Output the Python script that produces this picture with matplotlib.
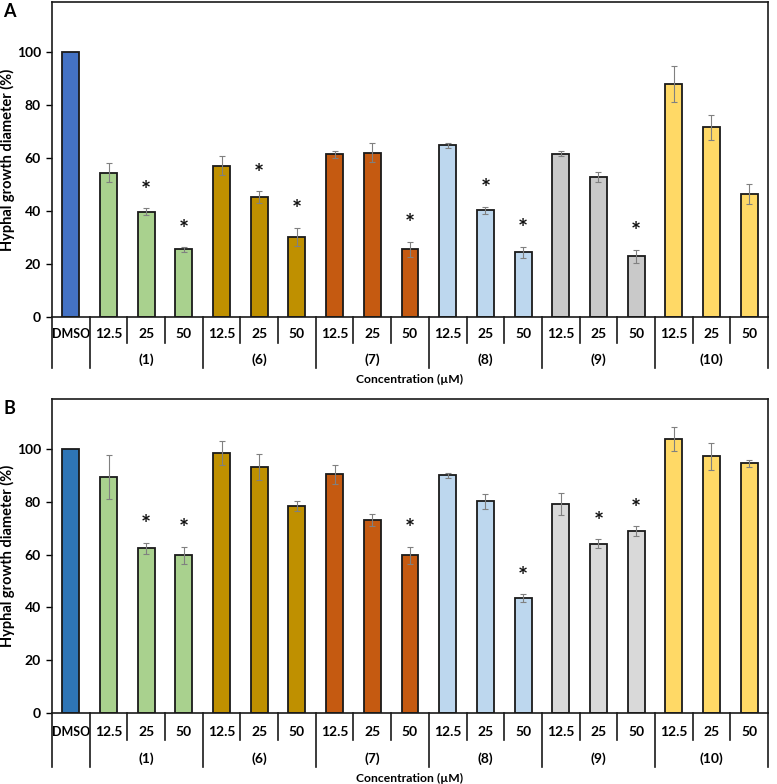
import matplotlib
matplotlib.use('Agg')
import matplotlib.pyplot as plt
import matplotlib.transforms as mtransforms
import numpy as np

plt.rcParams['font.family'] = ['Lato', 'DejaVu Sans']
plt.rcParams['font.weight'] = 'bold'

conc = ['DMSO', '12.5', '25', '50', '12.5', '25', '50', '12.5', '25', '50',
        '12.5', '25', '50', '12.5', '25', '50', '12.5', '25', '50']
groups = ['(1)', '(6)', '(7)', '(8)', '(9)', '(10)']

vals_a = [100, 54.5, 39.7, 25.5, 57.2, 45.3, 30.3, 61.4, 62.1, 25.5,
          64.8, 40.3, 24.4, 61.7, 52.8, 22.9, 88.0, 71.6, 46.6]
err_a = [0, 3.6, 1.3, 0.8, 3.7, 2.2, 3.3, 1.4, 3.5, 2.9,
         1.0, 1.4, 2.2, 1.0, 1.9, 2.4, 6.8, 4.7, 3.8]
star_a = [0, 0, 1, 1, 0, 1, 1, 0, 0, 1, 0, 1, 1, 0, 0, 1, 0, 0, 0]

vals_b = [100, 89.5, 62.4, 59.7, 98.5, 93.2, 78.3, 90.4, 73.1, 59.8,
          90.0, 80.2, 43.6, 79.2, 64.2, 68.9, 103.8, 97.2, 94.6]
err_b = [0, 8.3, 2.2, 3.2, 4.6, 4.9, 1.9, 3.7, 2.2, 3.2,
         1.1, 2.9, 1.4, 4.0, 1.6, 1.8, 4.4, 5.3, 1.2]
star_b = [0, 0, 1, 1, 0, 0, 0, 0, 0, 1, 0, 0, 1, 0, 1, 1, 0, 0, 0]

grp_cols_a = ['#4472C4', '#A9D18E', '#BF9000', '#C55A11', '#BDD7EE', '#C9C9C9', '#FFD966']
grp_cols_b = ['#2E75B6', '#A9D18E', '#BF9000', '#C55A11', '#BDD7EE', '#D9D9D9', '#FFD966']


def bar_colors(gc):
    return [gc[0]] + [c for c in gc[1:] for _ in range(3)]


def draw_panel(ax, vals, errs, stars, cols, letter, shift=0):
    fig = ax.figure
    x = np.arange(len(vals))
    ax.bar(x, vals, width=0.45, color=cols, edgecolor='#1a1a1a', linewidth=1.3, zorder=2)
    e = np.array(errs)
    m = e > 0
    ax.errorbar(x[m], np.array(vals)[m], yerr=e[m], fmt='none', ecolor='#808080',
                elinewidth=0.8, capsize=2, capthick=0.8, zorder=3)
    for i in range(len(vals)):
        if stars[i]:
            ax.text(i, vals[i] + errs[i] + 6.5, '*', ha='center', va='center',
                    fontsize=17, fontweight='bold', color='#111111')
    ax.set_xlim(-0.5, len(vals) - 0.5)
    ax.set_ylim(0, 119)
    ax.set_yticks([0, 20, 40, 60, 80, 100])
    ax.tick_params(axis='y', direction='out', length=4, width=1, labelsize=10, pad=4)
    ax.set_xticks([])
    for s in ax.spines.values():
        s.set_linewidth(1.2)
        s.set_color('#1a1a1a')
    ax.set_ylabel('Hyphal growth diameter (%)', fontsize=10.5, fontweight='bold')
    ax.yaxis.set_label_coords(-0.052, 0.5)

    # category axis below the plot
    trans = mtransforms.blended_transform_factory(ax.transData, ax.transAxes)

    def off(dy):
        return trans + mtransforms.ScaledTranslation(0, dy / 72.0, fig.dpi_scale_trans)

    h = ax.get_position().height * fig.get_figheight() * 72.0
    big = [-0.5, 0.5, 3.5, 6.5, 9.5, 12.5, 15.5, 18.5]
    for b in np.arange(-0.5, len(vals), 1.0):
        depth = 37 + shift if b in big else 18.5 + shift / 2
        ax.plot([b, b], [0, -depth / h], color='#1a1a1a', linewidth=1.2,
                transform=trans, clip_on=False, zorder=4)
    for i, c in enumerate(conc):
        ax.text(i, 0, c, transform=off(-12 - shift), ha='center', va='center',
                fontsize=9 if c == 'DMSO' else 10, fontweight='bold')
    for g, name in enumerate(groups):
        ax.text(2 + 3 * g, 0, name, transform=off(-31 - shift), ha='center', va='center',
                fontsize=10, fontweight='bold')
    ax.text(9, 0, 'Concentration (\u00b5M)', transform=off(-45 - shift), ha='center',
            va='center', fontsize=8.7, fontweight='bold')
    fig.text(0.004, ax.get_position().y1 - 0.012, letter, fontsize=13, fontweight='bold',
             ha='left', va='center')


fig = plt.figure(figsize=(7.77, 7.84), dpi=100)
ax_a = fig.add_axes([0.0669, 0.5957, 0.9215, 0.4017])
ax_b = fig.add_axes([0.0669, 0.0906, 0.9215, 0.4005])

draw_panel(ax_a, vals_a, err_a, star_a, bar_colors(grp_cols_a), 'A')
draw_panel(ax_b, vals_b, err_b, star_b, bar_colors(grp_cols_b), 'B', shift=2)

fig.savefig('out.png', dpi=100)
